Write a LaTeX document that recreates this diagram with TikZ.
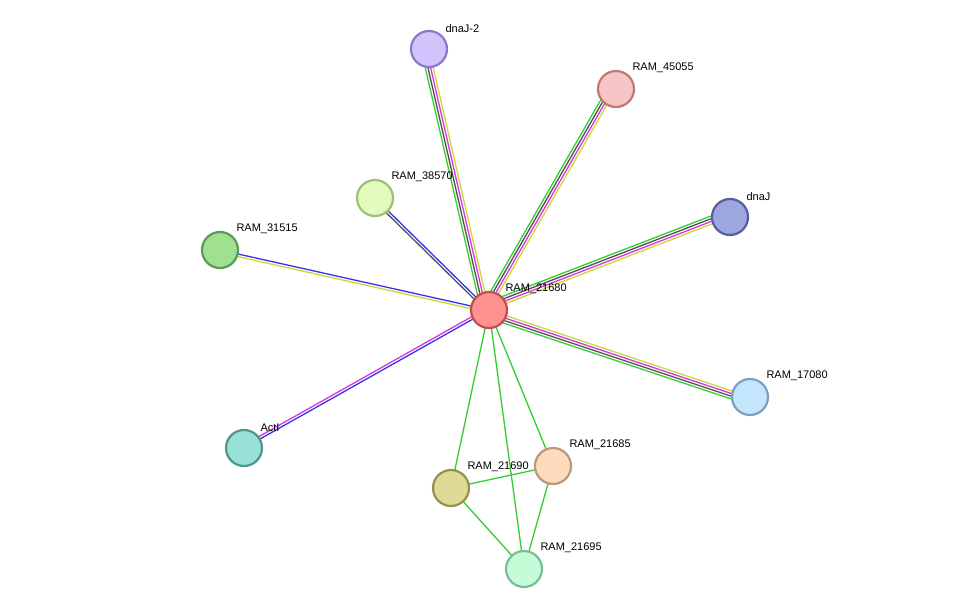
\documentclass[tikz,border=0pt]{standalone}
\usepackage{fontspec}
\setmainfont{Liberation Sans}
\usetikzlibrary{calc}
\definecolor{eGreen}{HTML}{33CC33}
\definecolor{eGray}{HTML}{505050}
\definecolor{eMagenta}{HTML}{DD33DD}
\definecolor{eYellow}{HTML}{C8D83A}
\definecolor{eBlue}{HTML}{3333EE}
\tikzset{
  protein/.style = {circle, draw, line width=2.2pt, minimum size=36pt, inner sep=0pt},
  lbl/.style     = {font=\fontsize{11}{13}\selectfont, inner sep=0pt, label distance=4pt},
  link/.style    = {line width=1.3pt}
}
% parallel lines between two nodes, one per colour
\newcommand{\multiedge}[3]{%
  \foreach \c [count=\i] in {#3} {
    \pgfmathsetmacro{\off}{(\i-1)*2.6}
    \draw[link, \c] ($(#1)!\off pt!90:(#2)$) -- ($(#2)!\off pt!-90:(#1)$);
  }}

\begin{document}
\begin{tikzpicture}[x=1pt, y=-1pt]
  \useasboundingbox (0,0) rectangle (975,615);
  % coordinates of the proteins
  \coordinate (ram21680) at (489,310);
  \coordinate (dnaj2) at (429,49);
  \coordinate (ram45055) at (616,89);
  \coordinate (ram38570) at (375,198);
  \coordinate (dnaj) at (730,217);
  \coordinate (ram31515) at (220,250);
  \coordinate (ram17080) at (750,397);
  \coordinate (actI) at (244,448);
  \coordinate (ram21685) at (553,466);
  \coordinate (ram21690) at (451,488);
  \coordinate (ram21695) at (524,569);

  % links
  \multiedge{ram21680}{dnaj2}{eYellow,eMagenta,eGray,eGreen}
  \multiedge{ram21680}{ram45055}{eYellow,eMagenta,eGray,eGreen}
  \multiedge{ram21680}{dnaj}{eYellow,eMagenta,eGray,eGreen}
  \multiedge{ram17080}{ram21680}{eYellow,eMagenta,eGray,eGreen}
  \multiedge{ram21680}{ram38570}{eBlue,eGray}
  \multiedge{ram21680}{ram31515}{eBlue,eYellow}
  \multiedge{actI}{ram21680}{eBlue,eMagenta}
  \draw[link, eGreen] (ram21680) -- (ram21685);
  \draw[link, eGreen] (ram21680) -- (ram21690);
  \draw[link, eGreen] (ram21680) -- (ram21695);
  \draw[link, eGreen] (ram21690) -- (ram21685);
  \draw[link, eGreen] (ram21690) -- (ram21695);
  \draw[link, eGreen] (ram21685) -- (ram21695);

  % proteins
  \node[protein, fill={rgb,255:red,255;green,145;blue,145}, draw={rgb,255:red,190;green,80;blue,80},
        label={[lbl, anchor=south west]45:RAM\_21680}] at (ram21680) {};
  \node[protein, fill={rgb,255:red,210;green,195;blue,252}, draw={rgb,255:red,140;green,120;blue,200},
        label={[lbl, anchor=south west]45:dnaJ-2}] at (dnaj2) {};
  \node[protein, fill={rgb,255:red,246;green,198;blue,198}, draw={rgb,255:red,190;green,120;blue,120},
        label={[lbl, anchor=south west]45:RAM\_45055}] at (ram45055) {};
  \node[protein, fill={rgb,255:red,226;green,252;blue,190}, draw={rgb,255:red,160;green,190;blue,120},
        label={[lbl, anchor=south west]45:RAM\_38570}] at (ram38570) {};
  \node[protein, fill={rgb,255:red,158;green,166;blue,224}, draw={rgb,255:red,85;green,95;blue,160},
        label={[lbl, anchor=south west]45:dnaJ}] at (dnaj) {};
  \node[protein, fill={rgb,255:red,160;green,224;blue,145}, draw={rgb,255:red,90;green,155;blue,85},
        label={[lbl, anchor=south west]45:RAM\_31515}] at (ram31515) {};
  \node[protein, fill={rgb,255:red,195;green,230;blue,252}, draw={rgb,255:red,125;green,160;blue,190},
        label={[lbl, anchor=south west]45:RAM\_17080}] at (ram17080) {};
  \node[protein, fill={rgb,255:red,150;green,224;blue,215}, draw={rgb,255:red,80;green,150;blue,140},
        label={[lbl, anchor=south west]45:ActI}] at (actI) {};
  \node[protein, fill={rgb,255:red,253;green,220;blue,190}, draw={rgb,255:red,190;green,150;blue,120},
        label={[lbl, anchor=south west]45:RAM\_21685}] at (ram21685) {};
  \node[protein, fill={rgb,255:red,222;green,220;blue,148}, draw={rgb,255:red,150;green,145;blue,80},
        label={[lbl, anchor=south west]45:RAM\_21690}] at (ram21690) {};
  \node[protein, fill={rgb,255:red,195;green,252;blue,215}, draw={rgb,255:red,120;green,190;blue,150},
        label={[lbl, anchor=south west]45:RAM\_21695}] at (ram21695) {};
\end{tikzpicture}
\end{document}
